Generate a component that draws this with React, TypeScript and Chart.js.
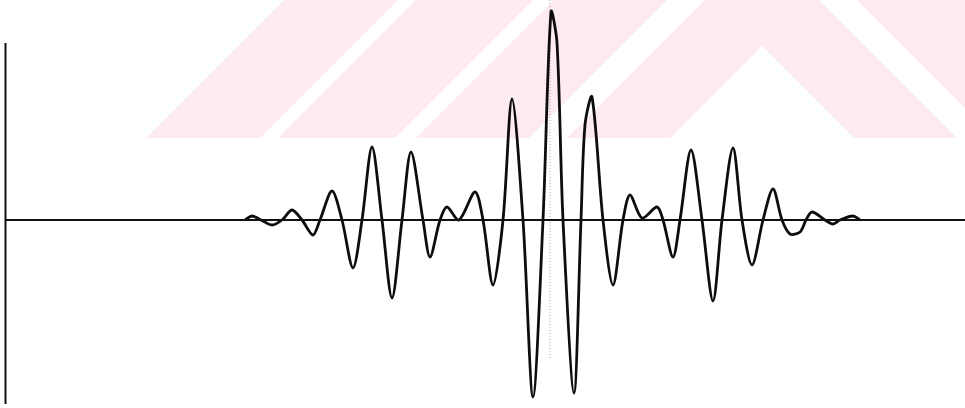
import { useEffect, useRef } from "react";
import { Chart, registerables } from "chart.js";

Chart.register(...registerables);

// Time (arbitrary units) of each read point of the trace
const TIME = [
  47.9, 49.3, 51.1, 53.3, 55.3, 57.3, 59.3, 61.5, 62.9, 65.3,
  67.3, 69.5, 71.3, 73.3, 75.3, 77.3, 79.3, 81.1, 83.5, 84.9,
  86.9, 88.3, 90.7, 93.9, 95.5, 97.5, 99.5, 101.3, 103.5, 105.5,
  107.5, 109.1, 110.3, 111.5, 113.7, 115.1, 115.9, 117.3, 119.5, 121.5,
  123.5, 124.9, 127.3, 130.3, 131.5, 133.5, 134.9, 137.1, 139.3, 141.5,
  143.3, 145.5, 147.3, 149.3, 151.5, 153.5, 155.3, 156.9, 158.9, 160.1,
  161.3, 163.9, 165.5, 166.9, 169.5, 170.9,
];

// Amplitude (arbitrary units) of the trace at each time
const AMPLITUDE = [
  0, 2, 0, -2.5, 0, 5, 0, -7.5, 0, 14.5,
  0, -24, 0, 36.5, 0, -39, 0, 34, 0, -18.5,
  0, 6.5, 0, 14, 0, -32.5, 0, 60.5, 0, -88.5,
  0, 104, 88.5, 0, -86.5, 0, 47.5, 61.5, 0, -32.5,
  0, 12.5, 1, 6.5, 0, -18.5, 0, 35, 0, -40.5,
  0, 36, 0, -22.5, 0, 15.5, 0, -7, -6, 0,
  4, 0, -2, 0, 2, 0,
];

// Axis extents
const TIME_AXIS = [0, 191.9];
const AMPLITUDE_AXIS = [-92, 88.5];
// Faint dotted guide through the main peak
const GUIDE_TIME = 108.9;
const GUIDE_RANGE = [110, -70];

const X_LIMITS = [-1.1, 191.9];
const Y_LIMITS = [-94, 110];

// Decorative chevron watermark bands (pixel offsets)
const WATERMARK_BANDS: [number, number][] = [
  [-46, 57],
  [95, 208],
  [229, 346],
  [364, 478],
];

const watermarkPlugin = {
  id: "watermark",
  beforeDatasetsDraw(chart: any) {
    const ctx = chart.ctx as CanvasRenderingContext2D;
    ctx.save();
    ctx.beginPath();
    ctx.rect(0, 0, chart.width, 138);
    ctx.clip();
    ctx.fillStyle = "#fdebef";
    const cx = 762;
    const H = 500;
    for (const [u1, u2] of WATERMARK_BANDS) {
      ctx.beginPath();
      ctx.moveTo(cx - u2 - H, H);
      ctx.lineTo(cx, -u2);
      ctx.lineTo(cx + u2 + H, H);
      ctx.lineTo(cx + u1 + H, H);
      ctx.lineTo(cx, -u1);
      ctx.lineTo(cx - u1 - H, H);
      ctx.closePath();
      ctx.fill();
    }
    ctx.restore();
  },
};

export default function App() {
  const canvasRef = useRef<HTMLCanvasElement | null>(null);

  useEffect(() => {
    if (!canvasRef.current) return;
    const trace = TIME.map((t, i) => ({ x: t, y: AMPLITUDE[i] }));
    const chart = new Chart(canvasRef.current, {
      type: "line",
      data: {
        datasets: [
          {
            data: [
              { x: TIME_AXIS[0], y: 0 },
              { x: TIME_AXIS[1], y: 0 },
            ],
            borderColor: "#111111",
            borderWidth: 2.2,
            pointRadius: 0,
            tension: 0,
          },
          {
            data: [
              { x: 0, y: AMPLITUDE_AXIS[0] },
              { x: 0, y: AMPLITUDE_AXIS[1] },
            ],
            borderColor: "#111111",
            borderWidth: 2,
            pointRadius: 0,
            tension: 0,
          },
          {
            data: [
              { x: GUIDE_TIME, y: GUIDE_RANGE[0] },
              { x: GUIDE_TIME, y: GUIDE_RANGE[1] },
            ],
            borderColor: "rgba(0,0,0,0.35)",
            borderWidth: 1,
            borderDash: [1, 2],
            pointRadius: 0,
            tension: 0,
          },
          {
            data: trace,
            borderColor: "#0d0d0d",
            borderWidth: 2.8,
            pointRadius: 0,
            tension: 0.3,
          },
        ],
      },
      options: {
        animation: false,
        responsive: true,
        maintainAspectRatio: false,
        layout: { padding: 0 },
        plugins: {
          legend: { display: false },
          tooltip: { enabled: false },
        },
        scales: {
          x: { type: "linear", display: false, min: X_LIMITS[0], max: X_LIMITS[1] },
          y: { type: "linear", display: false, min: Y_LIMITS[0], max: Y_LIMITS[1] },
        },
      },
      plugins: [watermarkPlugin],
    });
    return () => chart.destroy();
  }, []);

  return (
    <div
      style={{
        position: "fixed",
        left: 0,
        top: 0,
        width: 965,
        height: 408,
        background: "#ffffff",
      }}
    >
      <canvas ref={canvasRef} />
    </div>
  );
}
